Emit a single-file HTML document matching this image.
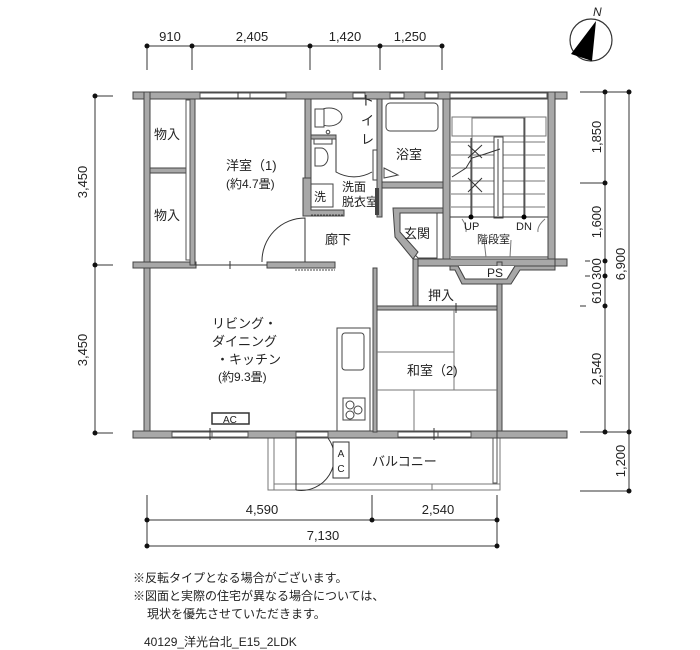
<!DOCTYPE html>
<html><head><meta charset="utf-8"><style>
html,body{margin:0;padding:0;background:#fff;width:700px;height:650px;overflow:hidden}
svg{display:block}
text{font-family:"Liberation Sans","Noto Sans CJK JP",sans-serif;fill:#222}
.w{fill:#a8a8a8;stroke:#444;stroke-width:1}
.l{stroke:#333;stroke-width:1;fill:none}
.g{stroke:#777;stroke-width:1;fill:none}
</style></head><body>
<svg width="700" height="650" viewBox="0 0 700 650">
<!-- top dims -->
<g class="l">
<line x1="147" y1="46" x2="442" y2="46"/>
<line x1="147" y1="46" x2="147" y2="70"/><line x1="192" y1="46" x2="192" y2="70"/>
<line x1="310" y1="46" x2="310" y2="70"/><line x1="380" y1="46" x2="380" y2="70"/>
<line x1="442" y1="46" x2="442" y2="70"/>
</g>
<g fill="#111"><circle cx="147" cy="46" r="2.5"/><circle cx="192" cy="46" r="2.5"/><circle cx="310" cy="46" r="2.5"/><circle cx="380" cy="46" r="2.5"/><circle cx="442" cy="46" r="2.5"/></g>
<g font-size="13" text-anchor="middle"><text x="170" y="41">910</text><text x="252" y="41">2,405</text><text x="345" y="41">1,420</text><text x="410" y="41">1,250</text></g>
<!-- left dims -->
<g class="l"><line x1="95" y1="96" x2="95" y2="433"/><line x1="95" y1="96" x2="113" y2="96"/><line x1="95" y1="265" x2="113" y2="265"/><line x1="95" y1="433" x2="113" y2="433"/></g>
<g fill="#111"><circle cx="95" cy="96" r="2.5"/><circle cx="95" cy="265" r="2.5"/><circle cx="95" cy="433" r="2.5"/></g>
<g font-size="13" text-anchor="middle"><text transform="translate(87,182) rotate(-90)">3,450</text><text transform="translate(87,350) rotate(-90)">3,450</text></g>
<!-- right dims -->
<g class="l"><line x1="605" y1="92" x2="605" y2="432"/><line x1="629" y1="92" x2="629" y2="491"/>
<line x1="580" y1="92" x2="629" y2="92"/><line x1="580" y1="183" x2="605" y2="183"/>
<line x1="580" y1="432" x2="629" y2="432"/><line x1="580" y1="491" x2="629" y2="491"/>
<line x1="585" y1="261" x2="590" y2="261"/><line x1="585" y1="276" x2="590" y2="276"/><line x1="580" y1="306" x2="586" y2="306"/></g>
<g fill="#111"><circle cx="605" cy="92" r="2.5"/><circle cx="629" cy="92" r="2.5"/><circle cx="605" cy="183" r="2.5"/><circle cx="605" cy="261" r="2.5"/><circle cx="605" cy="276" r="2.5"/><circle cx="605" cy="306" r="2.5"/><circle cx="605" cy="432" r="2.5"/><circle cx="629" cy="432" r="2.5"/><circle cx="629" cy="491" r="2.5"/></g>
<g font-size="13" text-anchor="middle">
<text transform="translate(601,137) rotate(-90)">1,850</text>
<text transform="translate(601,222) rotate(-90)">1,600</text>
<text transform="translate(601,269) rotate(-90)">300</text>
<text transform="translate(601,293) rotate(-90)">610</text>
<text transform="translate(601,369) rotate(-90)">2,540</text>
<text transform="translate(625,264) rotate(-90)">6,900</text>
<text transform="translate(625,461) rotate(-90)">1,200</text></g>
<!-- compass -->
<circle cx="591" cy="40" r="21" fill="#fff" stroke="#333" stroke-width="1.2"/>
<polygon points="596,21 592,61 571,54" fill="#000"/>
<text x="593" y="16" font-size="12" font-style="italic">N</text>
<!-- bottom dims -->
<g class="l"><line x1="147" y1="520" x2="497" y2="520"/><line x1="147" y1="546" x2="497" y2="546"/>
<line x1="147" y1="495" x2="147" y2="546"/><line x1="372" y1="495" x2="372" y2="520"/><line x1="497" y1="495" x2="497" y2="546"/></g>
<g fill="#111"><circle cx="147" cy="520" r="2.5"/><circle cx="372" cy="520" r="2.5"/><circle cx="497" cy="520" r="2.5"/><circle cx="147" cy="546" r="2.5"/><circle cx="497" cy="546" r="2.5"/></g>
<g font-size="13" text-anchor="middle"><text x="262" y="514">4,590</text><text x="438" y="514">2,540</text><text x="323" y="540">7,130</text></g>
<!-- balcony -->
<g class="g"><rect x="268" y="438" width="232" height="52"/><line x1="274" y1="438" x2="274" y2="490"/><line x1="274" y1="484" x2="500" y2="484"/><line x1="432" y1="484" x2="432" y2="490"/></g>
<rect x="493" y="438" width="4" height="45" fill="#fff" stroke="#555"/>
<path d="M296,438 L296,490 M296,490 A33,33 0 0 0 328,438" class="l"/>
<rect x="333" y="442" width="16" height="36" fill="#fff" stroke="#333"/>
<text x="341" y="457" font-size="10" text-anchor="middle">A</text><text x="341" y="472" font-size="10" text-anchor="middle">C</text>
<text x="372" y="466" font-size="13">バルコニー</text>
<!-- stair interior -->
<g class="g">
<rect x="452" y="117" width="94" height="19" fill="none"/>
<line x1="451" y1="142" x2="545" y2="142"/><line x1="451" y1="155" x2="545" y2="155"/><line x1="451" y1="168" x2="545" y2="168"/><line x1="451" y1="181" x2="545" y2="181"/><line x1="451" y1="194" x2="545" y2="194"/><line x1="451" y1="207" x2="545" y2="207"/>
<line x1="451" y1="217" x2="545" y2="217"/>
<rect x="472" y="118" width="53" height="99"/>
</g>
<rect x="494" y="137" width="9" height="81" fill="#fff" stroke="#444"/>
<line x1="498" y1="139" x2="498" y2="216" stroke="#444"/>
<g class="l"><line x1="468" y1="145" x2="482" y2="158"/><line x1="482" y1="145" x2="468" y2="158"/><line x1="468" y1="178" x2="482" y2="192"/><line x1="482" y1="178" x2="468" y2="192"/>
<polyline points="452,177 466,168 472,158 485,154 500,149"/>
<line x1="471" y1="138" x2="471" y2="217"/><line x1="524" y1="118" x2="524" y2="217"/>
<line x1="451" y1="257" x2="552" y2="257"/><line x1="449" y1="217" x2="552" y2="217"/></g>
<circle cx="471" cy="217" r="2.5" fill="#000"/><circle cx="524" cy="217" r="2.5" fill="#000"/>
<g class="g"><path d="M462,219 Q467,226 466,232"/><path d="M545,219 Q537,226 538,232"/><path d="M484,240 L486,257"/><path d="M511,240 L510,257"/></g>
<text x="464" y="230" font-size="11">UP</text><text x="516" y="230" font-size="11">DN</text>
<text x="477" y="243" font-size="11">階段室</text>
<!-- walls -->
<g class="w">
<rect x="133" y="92" width="434" height="7"/>
<rect x="144" y="92" width="6" height="346"/>
<rect x="133" y="431" width="434" height="7"/>
<rect x="133" y="262" width="63" height="6"/>
<rect x="267" y="262" width="68" height="6"/>
<rect x="150" y="168" width="42" height="5"/>
<rect x="190" y="99" width="5" height="166"/>
<rect x="305" y="99" width="6" height="100"/>
<rect x="373" y="268" width="4" height="164"/>
<rect x="377" y="99" width="5" height="118"/>
<rect x="382" y="182" width="62" height="6"/>
<rect x="443" y="99" width="7" height="167"/>
<rect x="548" y="92" width="7" height="174"/>
<rect x="555" y="92" width="12" height="7"/>
<rect x="555" y="259" width="12" height="7"/>
<rect x="413" y="259" width="142" height="7"/>
<rect x="413" y="259" width="5" height="49"/>
<rect x="497" y="262" width="5" height="170"/>
<rect x="377" y="306" width="120" height="4"/>
<rect x="497" y="431" width="70" height="7"/>
</g>
<!-- windows -->
<g fill="#fff" stroke="#555"><rect x="200" y="93" width="50" height="5"/><rect x="250" y="93" width="36" height="5"/>
<rect x="353" y="93" width="12" height="5"/><rect x="390" y="93" width="14" height="5"/><rect x="425" y="93" width="13" height="5"/><rect x="450" y="93" width="97" height="5"/>
<rect x="172" y="432" width="40" height="5"/><rect x="212" y="432" width="36" height="5"/><rect x="398" y="432" width="40" height="5"/><rect x="438" y="432" width="33" height="5"/><rect x="296" y="432" width="32" height="5"/>
<rect x="186" y="100" width="4" height="160"/></g>
<line x1="238" y1="92" x2="238" y2="99" stroke="#333"/><line x1="210" y1="428" x2="210" y2="440" stroke="#333"/><line x1="434" y1="428" x2="434" y2="440" stroke="#333"/>
<!-- PS -->
<path d="M458,266 L465,279 L507,279 L515,266" fill="#fff" stroke="#444"/>
<polygon points="450,266 458,266 465,279 507,279 515,266 555,266 555,270 520,270 511,284 462,284 455,270 450,270" class="w"/>
<text x="487" y="277" font-size="12">PS</text>
<!-- genkan -->
<polygon points="396,213 437,213 437,258 418,258 396,234" fill="none" stroke="#444"/>
<polygon points="393,208 443,208 443,213 400,213 400,232 418,252 413,259 395,237" class="w"/>
<text x="404" y="238" font-size="13">玄関</text>
<text x="428" y="300" font-size="13">押入</text>
<!-- bath -->
<rect x="386" y="103" width="52" height="28" rx="4" fill="#fff" stroke="#444"/>
<text x="396" y="159" font-size="13">浴室</text>
<polygon points="384,168 398,175 384,178" fill="#fff" stroke="#444"/>
<!-- toilet / wash -->
<ellipse cx="329" cy="117" rx="13" ry="9" fill="#fff" stroke="#444"/>
<rect x="315" y="109" width="9" height="18" fill="#fff" stroke="#444"/>
<circle cx="328" cy="132" r="1.8" fill="#fff" stroke="#444"/>
<rect x="314" y="137" width="18" height="7" fill="#fff" stroke="#444"/>
<rect x="311" y="135" width="25" height="4" class="w"/>
<path d="M315,148 h6 a7,9 0 0 1 0,18 h-6 z" fill="#fff" stroke="#444"/>
<path d="M336,139 L336,172 A36,36 0 0 0 372,172" class="l"/>
<rect x="373" y="150" width="4" height="30" fill="#fff" stroke="#444"/>
<text transform="translate(361,105)" font-size="13">ト</text><text x="361" y="125" font-size="13">イ</text><text x="361" y="144" font-size="13">レ</text>
<polygon points="303,178 311,178 311,210 344,210 344,216 303,216" class="w"/>
<rect x="311" y="184" width="22" height="23" fill="#fff" stroke="#444"/>
<text x="314" y="201" font-size="12">洗</text>
<text x="342" y="191" font-size="12">洗面</text><text x="342" y="206" font-size="12">脱衣室</text>
<line x1="311" y1="215" x2="344" y2="215" stroke="#444" stroke-dasharray="2,1"/>
<line x1="377" y1="188" x2="377" y2="215" stroke="#444" stroke-width="4"/>
<!-- doors -->
<path d="M262,262 A43,43 0 0 1 305,218 L305,262" class="l"/>
<path d="M196,265 L267,265" class="l"/><line x1="230" y1="261" x2="230" y2="269" stroke="#333"/>
<line x1="295" y1="270" x2="335" y2="270" stroke="#444" stroke-dasharray="2,1"/>
<!-- kitchen -->
<rect x="337" y="328" width="33" height="103" fill="#fff" stroke="#444"/>
<rect x="342" y="333" width="22" height="37" rx="3" fill="#fff" stroke="#444"/>
<rect x="343" y="398" width="22" height="22" fill="#fff" stroke="#444"/>
<g fill="#fff" stroke="#444"><circle cx="350" cy="405" r="4"/><circle cx="358" cy="410" r="4"/><circle cx="350" cy="415" r="4"/></g>
<rect x="212" y="413" width="37" height="11" fill="#fff" stroke="#333" stroke-width="1.5"/>
<text x="223" y="423" font-size="10">AC</text>
<!-- washitsu tatami -->
<g class="g"><line x1="377" y1="352" x2="454" y2="352"/><line x1="454" y1="310" x2="454" y2="390"/><line x1="377" y1="390" x2="497" y2="390"/><line x1="414" y1="390" x2="414" y2="431"/></g>
<line x1="456" y1="303" x2="456" y2="313" stroke="#333"/>
<!-- labels -->
<g font-size="13"><text x="154" y="139">物入</text><text x="154" y="220">物入</text>
<text x="226" y="170">洋室（1)</text><text x="226" y="188" font-size="12">(約4.7畳)</text>
<text x="325" y="244">廊下</text>
<text x="212" y="328">リビング・</text><text x="212" y="346">ダイニング</text><text x="216" y="364">・キッチン</text><text x="218" y="381" font-size="12">(約9.3畳)</text>
<text x="407" y="375">和室（2)</text></g>
<!-- notes -->
<g font-size="12"><text x="133" y="582">※反転タイプとなる場合がございます。</text>
<text x="133" y="600">※図面と実際の住宅が異なる場合については、</text>
<text x="147" y="618">現状を優先させていただきます。</text>
<text x="144" y="646">40129_洋光台北_E15_2LDK</text></g>
</svg>
</body></html>
